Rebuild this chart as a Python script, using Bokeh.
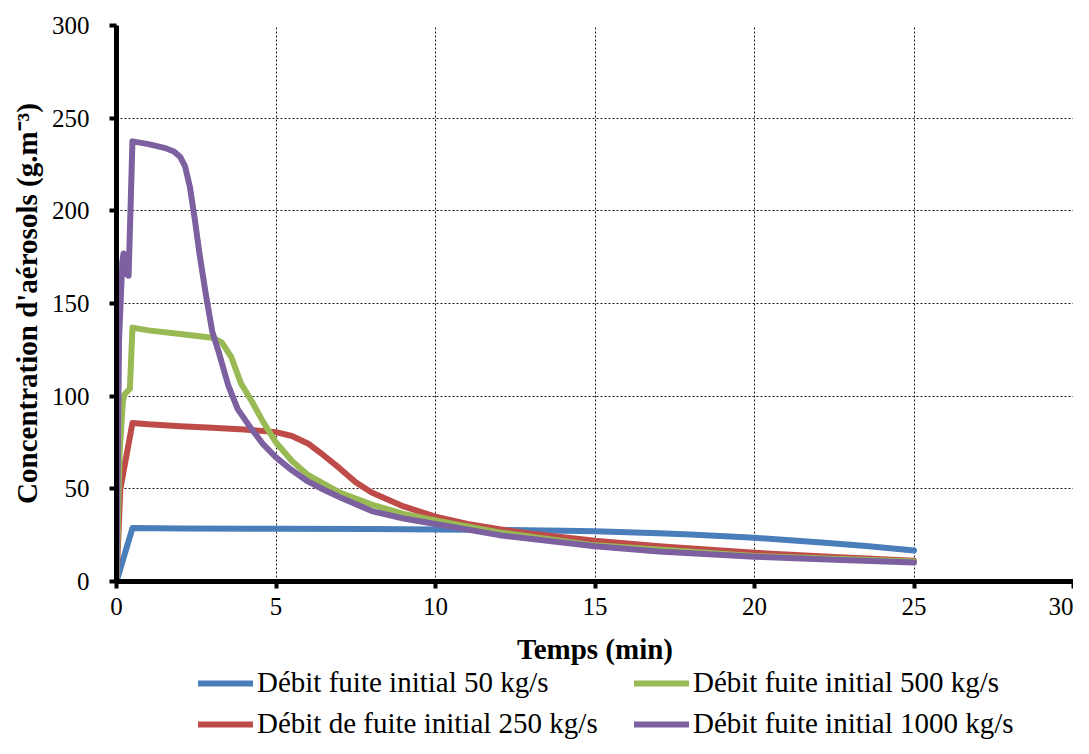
from bokeh.plotting import figure
from bokeh.models import Range1d, Legend, LegendItem, SingleIntervalTicker
from bokeh.layouts import column
from bokeh.embed import file_html
from bokeh.resources import INLINE

# ---- data ----
t_50 = [0, 0.5, 2, 5, 8, 10, 12, 14, 15, 16, 17, 18, 20, 22, 23.5, 25]
c_50 = [0, 28.8, 28.6, 28.4, 28.3, 28.1, 27.8, 27.4, 27.1, 26.6, 26.0, 25.3, 23.6, 21.2, 19.1, 16.7]

t_250 = [0, 0.12, 0.5, 1, 2, 3, 4, 5, 5.5, 6, 6.5, 7, 7.5, 8, 9, 10, 11, 12, 13, 15, 17, 20, 22.5, 25]
c_250 = [0, 50, 85.5, 84.8, 83.8, 83.0, 82.0, 80.6, 78.5, 74.5, 68, 61, 53.5, 48, 40.5, 35, 31, 28.2, 25.8, 22, 19, 15.5, 13.2, 11.2]

t_500 = [0, 0.1, 0.2, 0.25, 0.42, 0.5, 1, 2, 3, 3.3, 3.6, 3.9, 4.25, 4.6, 5, 5.5, 6, 7, 8, 9, 10, 12, 15, 20, 25]
c_500 = [0, 70, 97, 101, 104, 137, 135.5, 133.5, 131.5, 129, 121, 107, 97, 86, 75, 65, 57.5, 48, 41.5, 36.5, 33, 26.5, 19.5, 13.8, 10.8]

t_1000 = [0, 0.08, 0.18, 0.22, 0.26, 0.3, 0.38, 0.5, 1, 1.5, 1.8, 2.0, 2.15, 2.3, 2.45, 2.6, 2.8, 3.0, 3.2, 3.5, 3.8,
          4.2, 4.6, 5, 5.5, 6, 6.5, 7, 8, 9, 10, 12, 15, 17, 20, 22.5, 25]
c_1000 = [0, 130, 172, 177, 170, 166, 165, 237.5, 236, 234, 232, 229, 224, 213, 196, 177, 155, 135, 124, 106, 93,
          83, 74, 67, 60, 54, 49.5, 45.5, 38, 34, 31, 25, 19, 16.2, 13.4, 11.7, 10.3]

labels = ["Débit fuite initial 50 kg/s", "Débit de fuite initial 250 kg/s",
          "Débit fuite initial 500 kg/s", "Débit fuite initial 1000 kg/s"]
colors = ["#4A7EBB", "#BE4B48", "#98B954", "#7D60A0"]

x_ticks_step = 5
y_ticks_step = 50

FONT = "Liberation Serif"
LW = 6
series = [(t_50, c_50), (t_250, c_250), (t_500, c_500), (t_1000, c_1000)]

p = figure(frame_width=957, frame_height=556, output_backend="svg", toolbar_location=None,
           x_range=Range1d(0, 30), y_range=Range1d(0, 300),
           min_border_left=116, min_border_right=0, min_border_top=25, min_border_bottom=85)
p.outline_line_color = None
p.background_fill_color = "white"

for (t, c), col in zip(series, colors):
    p.line(t, c, line_color=col, line_width=LW, line_cap="round", line_join="round")

p.xaxis.ticker = SingleIntervalTicker(interval=x_ticks_step)
p.yaxis.ticker = SingleIntervalTicker(interval=y_ticks_step)

for ax in (p.xaxis[0], p.yaxis[0]):
    ax.axis_line_width = 5
    ax.axis_line_color = "black"
    ax.major_tick_line_width = 4
    ax.major_tick_line_color = "black"
    ax.major_tick_out = 7
    ax.major_tick_in = 0
    ax.minor_tick_line_color = None
    ax.major_label_text_font = FONT
    ax.major_label_text_font_size = "25px"
    ax.major_label_text_color = "black"
    ax.axis_label_text_font = FONT
    ax.axis_label_text_font_style = "bold"
    ax.axis_label_text_font_size = "29px"
    ax.axis_label_text_color = "black"

p.xaxis.axis_label = "Temps (min)"
p.yaxis.axis_label = "Concentration d'aérosols (g.m⁻³)"
p.xaxis.major_label_standoff = 9
p.yaxis.major_label_standoff = 20
p.xaxis.axis_label_standoff = 15
p.yaxis.axis_label_standoff = 6

p.grid.grid_line_color = "black"
p.grid.grid_line_width = 1
p.grid.grid_line_dash = "2 2"
p.grid.grid_line_alpha = 0.9

# ---- legend in its own strip below the chart (series drawn out of its view) ----
lg = figure(width=1073, height=72, output_backend="svg", toolbar_location=None,
            x_axis_type=None, y_axis_type=None, x_range=Range1d(1000, 1001), y_range=Range1d(1000, 1001),
            min_border_left=116, min_border_right=0, min_border_top=0, min_border_bottom=0)
lg.outline_line_color = None
lg.grid.visible = False
lg_lines = [lg.line(t, c, line_color=col, line_width=LW, line_cap="round")
            for (t, c), col in zip(series, colors)]

items = [LegendItem(label=labels[i], renderers=[lg_lines[i]]) for i in range(4)]
legend = Legend(items=items, ncols=2, location=(82, -1),
                label_text_font=FONT, label_text_font_size="29px", label_text_color="black",
                glyph_width=55, glyph_height=20, label_height=30, label_standoff=4,
                spacing=8, label_width=369, padding=0, margin=0,
                border_line_color=None, background_fill_alpha=0)
lg.add_layout(legend, "center")

layout = column(p, lg, spacing=0)
open("out.html", "w").write(file_html(layout, INLINE))
